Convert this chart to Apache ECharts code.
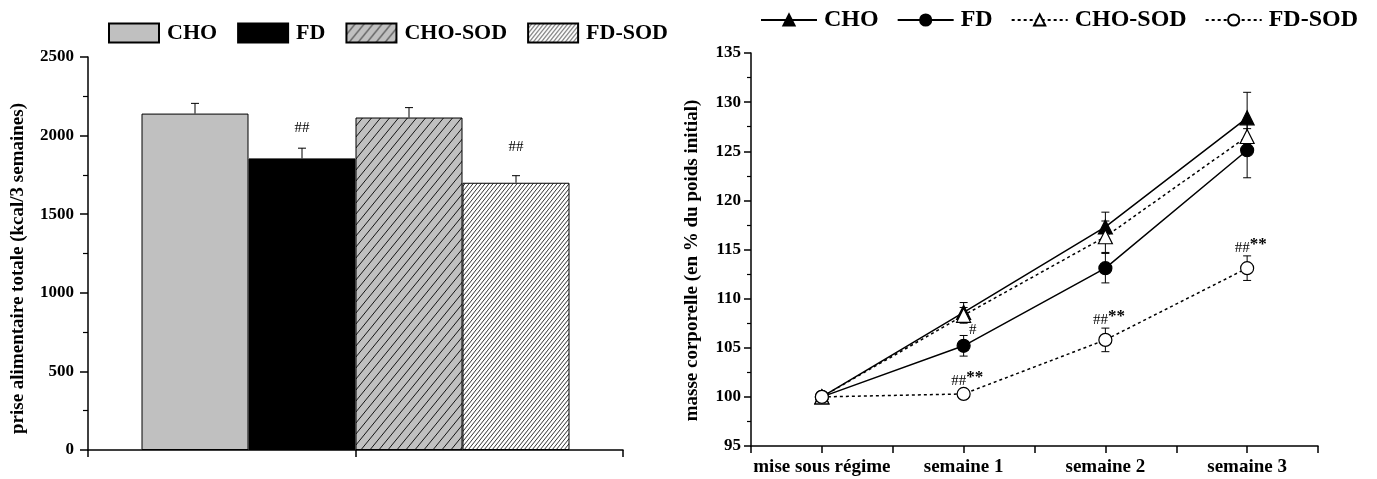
<!DOCTYPE html>
<html><head><meta charset="utf-8">
<script src="https://cdn.jsdelivr.net/npm/echarts@6/dist/echarts.min.js"></script>
<style>html,body{margin:0;padding:0;background:#fff}#c{width:1377px;height:479px}</style>
</head><body><div id="c"></div>
<script>
// ---------- data: left panel (total food intake) ----------
const barGroups = ['CHO', 'FD', 'CHO-SOD', 'FD-SOD'];
const intakeMean = [2140, 1855, 2115, 1700];
const intakeSem = [65, 65, 63, 45];
const intakeMarks = ['', '##', '', '##'];

// ---------- data: right panel (body mass, % of initial) ----------
const weeks = ['mise sous régime', 'semaine 1', 'semaine 2', 'semaine 3'];
const lineGroups = ['CHO', 'FD', 'CHO-SOD', 'FD-SOD'];
const massCHO = [100, 108.6, 117.3, 128.4];
const semCHO = [0.3, 1.0, 1.5, 2.6];
const massFD = [100, 105.2, 113.1, 125.1];
const semFD = [0.3, 1.05, 1.5, 2.8];
const massCHOSOD = [100, 108.3, 116.3, 126.5];
const semCHOSOD = [0.3, 0.8, 1.6, 0.8];
const massFDSOD = [100, 100.3, 105.8, 113.1];
const semFDSOD = [0.3, 0.5, 1.2, 1.25];
const marksFD = ['', '#', '', ''];
const marksFDSOD = ['', '##**', '##**', '##**'];

// ---------- styling ----------
const SERIF = '"Liberation Serif","Times New Roman",serif';
function hatch(bg, w, h, lw) {
  const c = document.createElement('canvas');
  c.width = w; c.height = h;
  const g = c.getContext('2d');
  g.fillStyle = bg; g.fillRect(0, 0, w, h);
  g.strokeStyle = '#000'; g.lineWidth = lw;
  g.beginPath();
  g.moveTo(-w, 2 * h); g.lineTo(2 * w, -h);
  g.moveTo(-2 * w, 2 * h); g.lineTo(w, -h);
  g.moveTo(0, 2 * h); g.lineTo(3 * w, -h);
  g.stroke();
  return c;
}
const barFills = [
  '#c0c0c0',
  '#000000',
  { image: hatch('#c0c0c0', 9, 11, 0.9), repeat: 'repeat' },
  { image: hatch('#ffffff', 4, 5, 0.8), repeat: 'repeat' }
];
const annoOffsetBar = [0, 20, 0, 29];
const lineKey = n => 'L:' + n;

const lineData = [massCHO, massFD, massCHOSOD, massFDSOD];
const lineSem = [semCHO, semFD, semCHOSOD, semFDSOD];
const lineStyles = [
  { symbol: 'triangle', fill: '#000', type: 'solid', size: 14 },
  { symbol: 'circle', fill: '#000', type: 'solid', size: 13 },
  { symbol: 'triangle', fill: '#fff', type: [3, 3], size: 14 },
  { symbol: 'circle', fill: '#fff', type: [3, 3], size: 13 }
];

const series = [];
barGroups.forEach((name, i) => {
  series.push({
    type: 'bar', name, xAxisIndex: 0, yAxisIndex: 0,
    data: [intakeMean[i]], barWidth: '20%', barGap: '0%',
    itemStyle: { color: barFills[i], borderColor: '#000', borderWidth: 1 },
    z: 2
  });
});
// error bars + marks on bars
series.push({
  type: 'custom', xAxisIndex: 0, yAxisIndex: 0, z: 3, silent: true,
  data: intakeMean.map((m, i) => [0, m, intakeSem[i], i]),
  encode: { x: 0, y: 1 },
  renderItem: (params, api) => {
    const m = api.value(1), s = api.value(2), i = api.value(3);
    const bw = api.size([1, 0])[0] * 0.2;
    const cx = api.coord([0, 0])[0] + (i - 1.5) * bw;
    const yTop = api.coord([0, m + s])[1];
    const yM = api.coord([0, m])[1];
    const children = [
      { type: 'line', shape: { x1: cx, y1: yM, x2: cx, y2: yTop }, style: { stroke: '#000', lineWidth: 1 } },
      { type: 'line', shape: { x1: cx - 4, y1: yTop, x2: cx + 4, y2: yTop }, style: { stroke: '#000', lineWidth: 1 } }
    ];
    if (intakeMarks[i]) {
      children.push({ type: 'text', style: { text: intakeMarks[i], x: cx, y: yTop - annoOffsetBar[i],
        align: 'center', verticalAlign: 'middle', font: '15px ' + SERIF, fill: '#000' } });
    }
    return { type: 'group', children };
  }
});

// lines on right panel
lineGroups.forEach((name, k) => {
  const st = lineStyles[k];
  series.push({
    type: 'line', name: lineKey(name), xAxisIndex: 2, yAxisIndex: 1,
    data: lineData[k].map((v, i) => [i, v]),
    symbol: st.symbol, symbolSize: st.size, showAllSymbol: true,
    lineStyle: { color: '#000', width: 1.5, type: st.type },
    itemStyle: { color: st.fill, borderColor: '#000', borderWidth: 1.2 },
    z: 4 + k
  });
  series.push({
    type: 'custom', xAxisIndex: 2, yAxisIndex: 1, z: 3, silent: true,
    data: lineData[k].map((v, i) => [i, v, lineSem[k][i]]),
    encode: { x: 0, y: 1 },
    renderItem: (params, api) => {
      const x = api.value(0), v = api.value(1), s = api.value(2);
      const p = api.coord([x, v]);
      const top = api.coord([x, v + s])[1], bot = api.coord([x, v - s])[1];
      const cx = p[0];
      const ls = { stroke: '#000', lineWidth: 1 };
      const ch = [
        { type: 'line', shape: { x1: cx, y1: top, x2: cx, y2: bot }, style: ls },
        { type: 'line', shape: { x1: cx - 4, y1: top, x2: cx + 4, y2: top }, style: ls },
        { type: 'line', shape: { x1: cx - 4, y1: bot, x2: cx + 4, y2: bot }, style: ls }
      ];
      const idx = params.dataIndex;
      if (k === 1 && marksFD[idx]) {
        ch.push({ type: 'text', style: { text: marksFD[idx], x: cx + 9, y: top - 5, align: 'center', verticalAlign: 'middle', font: '15px ' + SERIF, fill: '#000' } });
      }
      if (k === 3 && marksFDSOD[idx]) {
        const t = marksFDSOD[idx];
        ch.push({ type: 'text', style: { text: t.slice(0, 2), x: cx - 5, y: top - 8, align: 'center', verticalAlign: 'middle', font: '15px ' + SERIF, fill: '#000' } });
        ch.push({ type: 'text', style: { text: t.slice(2), x: cx + 11, y: top - 11, align: 'center', verticalAlign: 'middle', font: 'bold 17px ' + SERIF, fill: '#000' } });
      }
      return { type: 'group', children: ch };
    }
  });
});

const axisLineStyle = { show: true, onZero: false, lineStyle: { color: '#000', width: 1.5 } };
const option = {
  animation: false,
  backgroundColor: '#fff',
  legend: [
    {
      data: barGroups, left: 103, top: 17, itemWidth: 50, itemHeight: 19, itemGap: 20, icon: 'rect',
      textStyle: { fontFamily: SERIF, fontWeight: 'bold', fontSize: 22, color: '#000', padding: [0, 0, 0, 3] }
    },
    {
      data: lineGroups.map(lineKey), left: 755, top: 3, width: 620, itemWidth: 56, itemHeight: 14, itemGap: 18,
      formatter: n => n.slice(2),
      textStyle: { fontFamily: SERIF, fontWeight: 'bold', fontSize: 24, color: '#000', padding: [0, 0, 0, 2] }
    }
  ],
  grid: [
    { left: 88, right: 754, top: 57, bottom: 29 },
    { left: 751, right: 59, top: 53, bottom: 33 }
  ],
  xAxis: [
    { type: 'category', gridIndex: 0, data: [''], show: false },
    { type: 'value', gridIndex: 0, position: 'bottom', min: 0, max: 2, interval: 1,
      axisLine: axisLineStyle, axisTick: { show: true, length: 7, lineStyle: { color: '#000', width: 1.5 } },
      axisLabel: { show: false }, splitLine: { show: false } },
    { type: 'value', gridIndex: 1, position: 'bottom', min: -0.5, max: 3.5, interval: 0.5,
      axisLine: axisLineStyle, axisTick: { show: true, length: 7, lineStyle: { color: '#000', width: 1.5 } },
      splitLine: { show: false },
      axisLabel: { margin: 12, fontFamily: SERIF, fontWeight: 'bold', fontSize: 19, color: '#000',
        formatter: v => (Number.isInteger(v) && weeks[v] !== undefined) ? weeks[v] : '' } }
  ],
  yAxis: [
    { type: 'value', gridIndex: 0, position: 'left', min: 0, max: 2500, interval: 500,
      name: 'prise alimentaire totale (kcal/3 semaines)', nameLocation: 'middle', nameGap: 60,
      nameTextStyle: { fontFamily: SERIF, fontWeight: 'bold', fontSize: 19, color: '#000', padding: [0, 30, 0, 0] },
      axisLine: axisLineStyle,
      axisTick: { show: true, length: 8, lineStyle: { color: '#000', width: 1.5 } },
      minorTick: { show: true, splitNumber: 2, length: 5, lineStyle: { color: '#000', width: 1.2 } },
      splitLine: { show: false },
      axisLabel: { margin: 14, fontFamily: SERIF, fontWeight: 'bold', fontSize: 17, color: '#000', formatter: v => String(v) } },
    { type: 'value', gridIndex: 1, position: 'left', min: 95, max: 135, interval: 5,
      name: 'masse corporelle (en % du poids initial)', nameLocation: 'middle', nameGap: 49,
      nameTextStyle: { fontFamily: SERIF, fontWeight: 'bold', fontSize: 19, color: '#000', padding: [0, 22, 0, 0] },
      axisLine: axisLineStyle,
      axisTick: { show: true, length: 7, lineStyle: { color: '#000', width: 1.5 } },
      minorTick: { show: true, splitNumber: 2, length: 4, lineStyle: { color: '#000', width: 1.2 } },
      splitLine: { show: false },
      axisLabel: { margin: 10, fontFamily: SERIF, fontWeight: 'bold', fontSize: 17, color: '#000' } }
  ],
  series
};
const chart = echarts.init(document.getElementById('c'), null, { renderer: 'canvas' });
chart.setOption(option);
</script>
</body></html>
